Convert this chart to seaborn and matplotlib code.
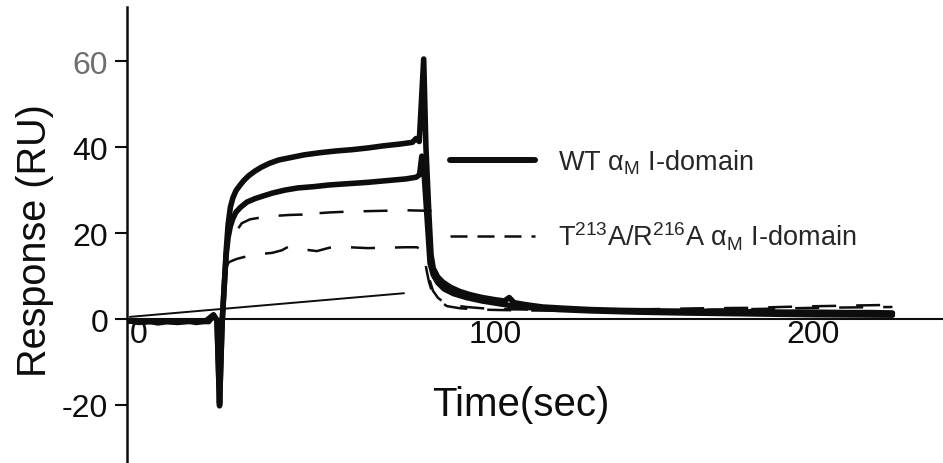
#imports
import seaborn as sns
import matplotlib.pyplot as plt
from matplotlib.lines import Line2D

# sensorgram: time (sec) and response (RU)
# WT alpha_M I-domain, higher curve
wt_hi_t = [-15, -12, -9, -6, -3, 0, 3, 6, 9, 11.5, 12.6, 13.4, 14.2, 14.9, 15.5,
           16.1, 16.8, 17.6, 18.6, 19.8, 21, 22.5, 24.5, 26.5, 29, 32, 36, 40, 45, 50,
           55, 60, 65, 70, 74, 75.2, 76.2, 77.6, 78.3, 79.2, 79.9, 80.6, 82, 83.6, 86,
           89, 92, 96, 100, 103, 104.5, 106, 110, 115, 122, 130, 140, 150, 160, 170,
           180, 190, 200, 210, 218, 225]
wt_hi_ru = [-0.4, -0.8, -0.5, -0.9, -0.6, -0.7, -0.4, -0.8, -0.5, 1.0, -0.3, -20.2, -1.0, 8.0, 16.0,
            22.0, 26.0, 28.2, 29.9, 31.1, 32.2, 33.3, 34.4, 35.3, 36.2, 37.0, 37.6, 38.2, 38.7, 39.1,
            39.4, 39.8, 40.3, 40.7, 41.1, 42.0, 41.3, 60.5, 40.0, 25.0, 15.0, 11.8, 9.8, 8.6, 7.4,
            6.4, 5.7, 5.0, 4.5, 4.2, 5.0, 3.8, 3.3, 2.8, 2.5, 2.2, 2.0, 1.9, 1.8, 1.8,
            1.7, 1.6, 1.6, 1.5, 1.5, 1.4]

# WT alpha_M I-domain, lower curve
wt_lo_t = [-15, -10, -5, 0, 5, 10, 11.5, 12.6, 13.4, 14.2, 14.9, 15.5, 16.1, 16.8, 17.6,
           18.6, 20, 22, 24.5, 27, 30, 34, 38, 43, 48, 54, 60, 66, 72, 75.3,
           76.3, 77.0, 77.8, 78.8, 79.6, 80.6, 82, 84, 87, 91, 96, 101, 106, 112, 120,
           130, 145, 160, 180, 200, 225]
wt_lo_ru = [-0.5, -0.7, -0.4, -0.8, -0.5, -0.6, 0.8, -0.3, -19.5, -1.0, 8.0, 15.0, 19.0, 21.6, 23.4,
            24.9, 26.0, 27.2, 28.0, 28.6, 29.3, 30.0, 30.5, 30.8, 31.2, 31.5, 31.8, 32.2, 32.6, 33.0,
            33.6, 37.9, 33.0, 22.0, 13.0, 10.3, 8.5, 7.0, 5.9, 5.0, 4.2, 3.6, 3.0, 2.6, 2.2,
            1.9, 1.6, 1.4, 1.2, 1.0, 0.9]

# T213A/R216A mutant, higher curve (association, then dissociation)
mut_hi_t = [-15, -10, -5, 0, 5, 10, 12.6, 13.4, 14.2, 14.9, 15.5, 16.3, 17.5, 19.2, 20.4,
            23, 27, 31, 35, 39, 41, 42.5, 44, 48, 54, 60, 66, 72.3, 78, 84.9]
mut_hi_ru = [-0.5, -0.7, -0.5, -0.8, -0.5, -0.6, -0.3, -19.8, -1.0, 8.0, 15.5, 18.5, 20.0, 21.0, 22.3,
             23.2, 23.7, 24.0, 24.2, 24.3, 24.0, 25.2, 24.6, 24.8, 25.0, 25.1, 25.2, 25.3, 25.2, 25.1]
mut_hi_off_t = [79.5, 80.5, 82, 84, 87, 91, 96, 101, 110, 120, 135, 150, 165, 180, 195, 210, 225]
mut_hi_off_ru = [9.0, 6.6, 5.0, 3.8, 3.2, 2.8, 2.5, 2.3, 2.2, 2.1, 2.2, 2.3, 2.5, 2.6, 2.9, 3.1, 3.3]

# T213A/R216A mutant, lower curve
mut_lo_t = [-15, -10, -5, 0, 5, 10, 12.6, 13.4, 14.2, 14.9, 15.5, 16.3, 17.5, 18.9, 22,
            26, 30, 33, 35, 38.7, 44, 48, 54, 60, 66, 72, 75.5, 77, 78, 78.6,
            79.3, 80, 81.8, 84.9, 89, 95, 101, 110, 125, 140, 160, 180, 200, 225]
mut_lo_ru = [-0.5, -0.7, -0.5, -0.8, -0.5, -0.6, -0.3, -19.8, -1.0, 8.0, 12.0, 13.2, 13.6, 14.0, 14.6,
             15.1, 15.4, 16.0, 16.8, 16.3, 15.8, 16.6, 16.7, 16.5, 16.6, 16.7, 16.7, 16.0, 13.5, 11.0,
             8.5, 6.9, 4.6, 3.0, 2.5, 2.2, 2.1, 2.0, 1.9, 2.0, 2.1, 2.3, 2.6, 2.8]

# thin straight line across the baseline / injection region
drift_t = [-14.8, 71.4]
drift_ru = [0.5, 6.0]

y_ticks = [-20, 0, 20, 40, 60]
y_tick_labels = ['-20', '0', '20', '40', '60']
x_ticks = [-12, 100, 200]
x_tick_labels = ['0', '100', '200']
legend_labels = ['WT α$_\\mathregular{M}$ I-domain',
                 'T$^\\mathregular{213}$A/R$^\\mathregular{216}$A α$_\\mathregular{M}$ I-domain']

sns.set_style('ticks')
plt.rcParams['font.family'] = ['Liberation Sans', 'DejaVu Sans']

ink = '#0d0d0d'
fig = plt.figure(figsize=(9.43, 4.64), dpi=100)
ax = fig.add_axes([127 / 943, 0, 1 - 127 / 943, 456 / 464])

dash_curve = (0, (9.6, 8))
# dashed mutant curves first, thick WT on top
sns.lineplot(x=mut_hi_t, y=mut_hi_ru, ax=ax, sort=False, estimator=None, color=ink, linewidth=1.8, linestyle=dash_curve)
sns.lineplot(x=mut_hi_off_t, y=mut_hi_off_ru, ax=ax, sort=False, estimator=None, color=ink, linewidth=1.8, linestyle=dash_curve)
sns.lineplot(x=mut_lo_t, y=mut_lo_ru, ax=ax, sort=False, estimator=None, color=ink, linewidth=1.8, linestyle=dash_curve)
sns.lineplot(x=drift_t, y=drift_ru, ax=ax, sort=False, estimator=None, color=ink, linewidth=1.4)
sns.lineplot(x=wt_lo_t, y=wt_lo_ru, ax=ax, sort=False, estimator=None, color=ink, linewidth=4)
sns.lineplot(x=wt_hi_t, y=wt_hi_ru, ax=ax, sort=False, estimator=None, color=ink, linewidth=4)

ax.set_xlim(-15.7, 240.9)
ax.set_ylim(-33.5, 72.6)
ax.spines[['top', 'right']].set_visible(False)
ax.spines['bottom'].set_position(('data', 0))
ax.spines['left'].set_linewidth(1.8)
ax.spines['bottom'].set_linewidth(1.5)
ax.spines['left'].set_color(ink)
ax.spines['bottom'].set_color(ink)

ax.set_yticks(y_ticks, y_tick_labels)
ax.set_xticks(x_ticks, x_tick_labels)
ax.tick_params(axis='y', length=8.6, width=1.5, pad=5, labelsize=23, colors=ink)
ax.tick_params(axis='x', length=0, pad=0, labelsize=23, colors=ink)
ax.get_yticklabels()[-1].set_color('#6e6e6e')

ax.set_ylabel('Response (RU)', fontsize=28.5, color=ink)
ax.yaxis.set_label_coords(-0.089, 0.489)
ax.set_xlabel('Time(sec)', fontsize=29, color=ink)
ax.xaxis.set_label_coords(0.483, 0.172)

handles = [Line2D([], [], color=ink, linewidth=4.3),
           Line2D([], [], color=ink, linewidth=1.8, linestyle=(0, (6.8, 4)))]
ax.legend(handles, legend_labels, loc='upper left', bbox_to_anchor=(0.396, 0.691),
          frameon=False, fontsize=19.5, handlelength=3.14, handletextpad=0.85,
          labelspacing=1.6, borderpad=0, borderaxespad=0)

fig.savefig('out.png', dpi=100)
